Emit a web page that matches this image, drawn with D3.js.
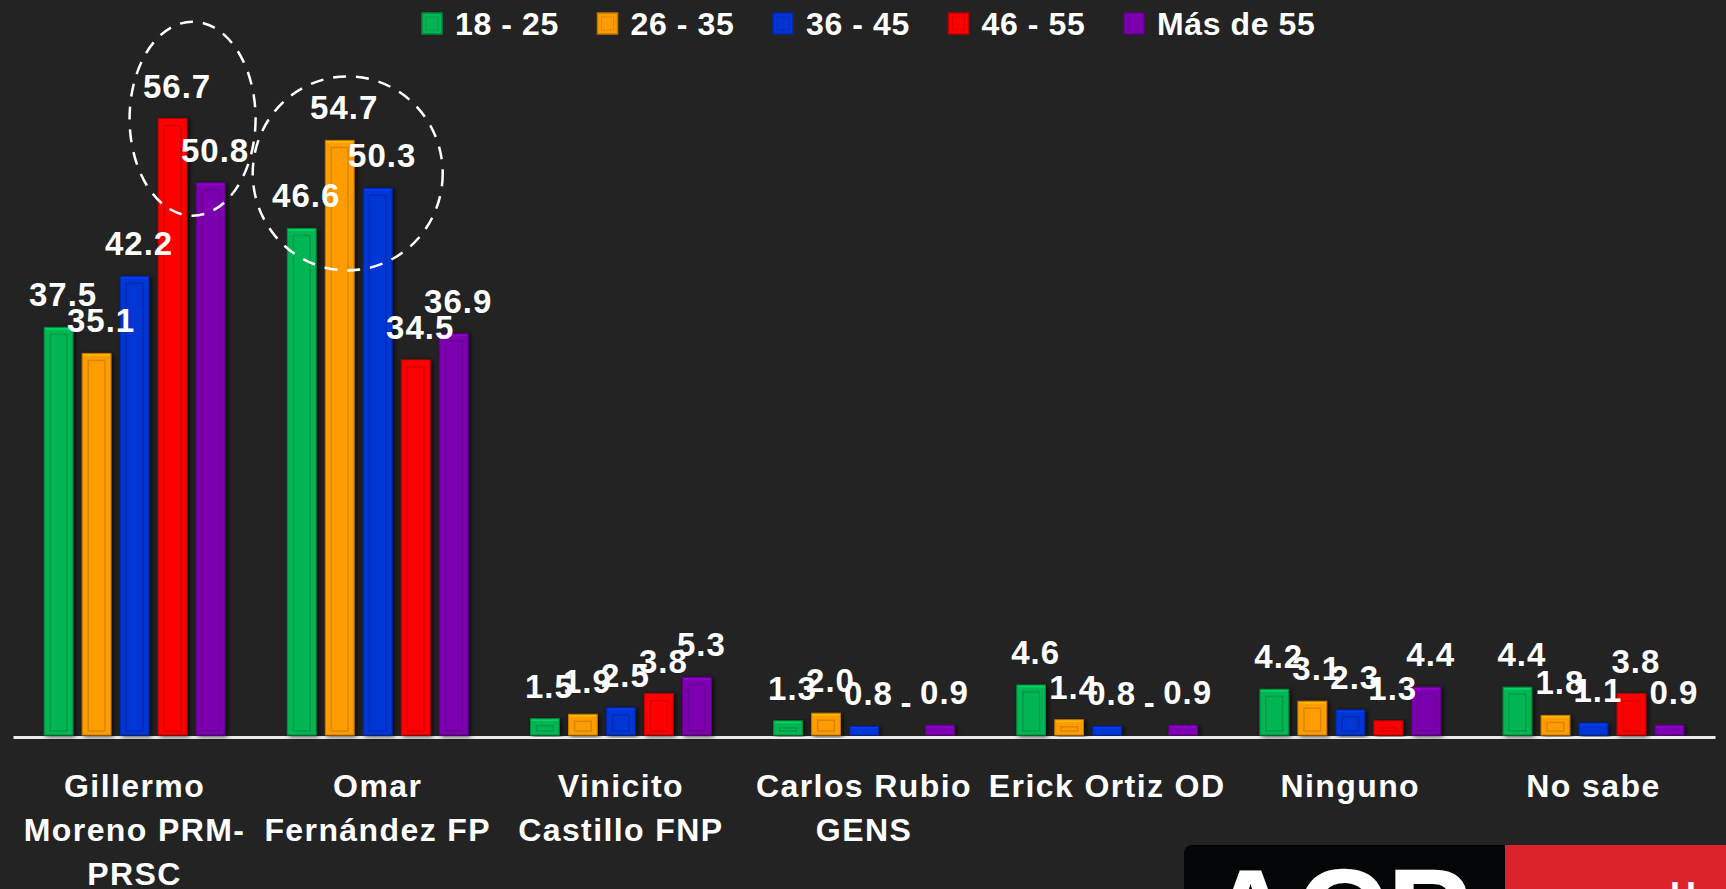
<!DOCTYPE html>
<html>
<head>
<meta charset="utf-8">
<script src="https://cdn.jsdelivr.net/npm/d3@7"></script>
<style>
    html, body { margin: 0; padding: 0; background: #232323; overflow: hidden; }
    .svg-container { width: 1726px; height: 889px; }
    text { font-family: "Liberation Sans", Arial, sans-serif; font-weight: bold; fill: #ffffff; }
</style>
</head>
<body>
<div class="svg-container"></div>
<script>
// ---- data ----
var categories = ["Gillermo Moreno PRM-PRSC", "Omar Fernández FP", "Vinicito Castillo FNP",
                  "Carlos Rubio GENS", "Erick Ortiz OD", "Ninguno", "No sabe"];
var categoryLines = [["Gillermo", "Moreno PRM-", "PRSC"], ["Omar", "Fernández FP"], ["Vinicito", "Castillo FNP"],
                     ["Carlos Rubio", "GENS"], ["Erick Ortiz OD"], ["Ninguno"], ["No sabe"]];
var series = ["18 - 25", "26 - 35", "36 - 45", "46 - 55", "Más de 55"];
var values18to25 = [37.5, 46.6, 1.5, 1.3, 4.6, 4.2, 4.4];
var values26to35 = [35.1, 54.7, 1.9, 2.0, 1.4, 3.1, 1.8];
var values36to45 = [42.2, 50.3, 2.5, 0.8, 0.8, 2.3, 1.1];
var values46to55 = [56.7, 34.5, 3.8, 0, 0, 1.3, 3.8];
var valuesOver55 = [50.8, 36.9, 5.3, 0.9, 0.9, 4.4, 0.9];
var yTicks = [0, 60];

var seriesValues = [values18to25, values26to35, values36to45, values46to55, valuesOver55];
var colors = ["#00b552", "#ff9d00", "#0534d6", "#ff0000", "#7d00b0"];

// dashed ellipses drawn round some bars (category index, series indexes)
var highlights = [
    { cat: 0, bars: [3, 4], dx: 1, dy: 0, rx: 63, ry: 97 },
    { cat: 1, bars: [0, 1, 2], dx: 8, dy: 33, rx: 95, ry: 97 }
];

var chart = (function() {
    var svg = null, W = 1726, H = 889;
    var x0, x1, y;

    function cacheDom() {
        svg = d3.select(".svg-container").append("svg")
            .attr("width", W)
            .attr("height", H);

        var defs = svg.append("defs");
        var f = defs.append("filter").attr("id", "shadow")
            .attr("x", "-40%").attr("y", "-10%").attr("width", "180%").attr("height", "120%");
        f.append("feDropShadow").attr("dx", 2).attr("dy", 1).attr("stdDeviation", 2.5)
            .attr("flood-color", "#000").attr("flood-opacity", 0.8);

        svg.append("rect").attr("width", W).attr("height", H).attr("fill", "#232323");
    }

    function buildScales() {
        x0 = d3.scaleBand().domain(categories).range([13, 1715]);
        x1 = d3.scaleBand().domain(series).range([-90.35, 90.35]).paddingInner(0.245).paddingOuter(0);
        y = d3.scaleLinear().domain(d3.extent(yTicks)).range([735, 735 - 60 * 10.87]);
    }

    function barX(ci, si) {
        return x0(categories[ci]) + x0.bandwidth() / 2 + x1(series[si]);
    }

    function drawBars() {
        var rows = [];
        categories.forEach(function(c, ci) {
            series.forEach(function(s, si) {
                rows.push({ ci: ci, si: si, v: seriesValues[si][ci] });
            });
        });
        var bw = x1.bandwidth();

        // bind data
        var bars = svg.append("g").selectAll("g.bar")
            .data(rows.filter(function(d) { return d.v > 0; }))
            .enter().append("g").attr("class", "bar");

        bars.append("rect")
            .attr("x", function(d) { return barX(d.ci, d.si); })
            .attr("y", function(d) { return y(d.v); })
            .attr("width", bw)
            .attr("height", function(d) { return y(0) - y(d.v); })
            .attr("fill", function(d) { return colors[d.si]; })
            .attr("stroke", function(d) { return d3.color(colors[d.si]).darker(0.7); })
            .attr("stroke-width", 1)
            .attr("filter", "url(#shadow)");

        // bevel: inner panel
        bars.filter(function(d) { return y(0) - y(d.v) > 12; }).append("rect")
            .attr("x", function(d) { return barX(d.ci, d.si) + 6; })
            .attr("y", function(d) { return y(d.v) + 7; })
            .attr("width", bw - 12)
            .attr("height", function(d) { return Math.max(0, y(0) - y(d.v) - 11); })
            .attr("fill", "none")
            .attr("stroke", function(d) { return d3.color(colors[d.si]).darker(0.6); })
            .attr("stroke-width", 1.5)
            .attr("stroke-opacity", 0.8);

        // top highlight line
        bars.append("line")
            .attr("x1", function(d) { return barX(d.ci, d.si) + 1; })
            .attr("x2", function(d) { return barX(d.ci, d.si) + bw - 1; })
            .attr("y1", function(d) { return y(d.v) + 1.5; })
            .attr("y2", function(d) { return y(d.v) + 1.5; })
            .attr("stroke", function(d) { return d3.color(colors[d.si]).brighter(0.5); })
            .attr("stroke-width", 1.5);

        // data labels
        svg.append("g").selectAll("text")
            .data(rows)
            .enter().append("text")
            .attr("x", function(d) { return barX(d.ci, d.si) + bw / 2 + 4.5; })
            .attr("y", function(d) { return y(d.v) - 21; })
            .attr("text-anchor", "middle")
            .style("font-size", "33px")
            .style("letter-spacing", "1px")
            .text(function(d) { return d.v === 0 ? "-" : d.v.toFixed(1); });
    }

    function drawAxis() {
        var ax = svg.append("g")
            .attr("transform", "translate(0,737)")
            .call(d3.axisBottom(x0).tickSize(0).tickSizeOuter(0).tickFormat(""));
        ax.select(".domain").attr("stroke", "#ececec").attr("stroke-width", 3);

        ax.selectAll(".tick").each(function(c, i) {
            var t = d3.select(this).append("text")
                .attr("text-anchor", "middle")
                .attr("fill", "#fff")
                .style("font-size", "32px")
                .style("letter-spacing", "1.4px");
            categoryLines[i].forEach(function(line, li) {
                t.append("tspan").attr("x", 0).attr("y", 60 + li * 44).text(line);
            });
        });
    }

    function drawHighlights() {
        var bw = x1.bandwidth();
        svg.append("g").selectAll("ellipse")
            .data(highlights)
            .enter().append("ellipse")
            .attr("cx", function(h) {
                return d3.mean(h.bars, function(si) { return barX(h.cat, si) + bw / 2; }) + h.dx;
            })
            .attr("cy", function(h) {
                return y(d3.max(h.bars, function(si) { return seriesValues[si][h.cat]; })) + h.dy;
            })
            .attr("rx", function(h) { return h.rx; })
            .attr("ry", function(h) { return h.ry; })
            .attr("fill", "none")
            .attr("stroke", "#fff")
            .attr("stroke-width", 2.5)
            .attr("stroke-dasharray", "13 10");
    }

    function drawLegend() {
        var items = svg.append("g").selectAll("g")
            .data(series)
            .enter().append("g")
            .attr("transform", function(d, i) { return "translate(" + (422 + i * 175.5) + ",13)"; });

        items.append("rect")
            .attr("width", 20).attr("height", 21)
            .attr("fill", function(d, i) { return colors[i]; })
            .attr("stroke", function(d, i) { return d3.color(colors[i]).darker(0.8); })
            .attr("stroke-width", 1.5);
        items.append("rect")
            .attr("x", 4).attr("y", 4).attr("width", 12).attr("height", 13)
            .attr("fill", "none")
            .attr("stroke", function(d, i) { return d3.color(colors[i]).darker(0.4); })
            .attr("stroke-width", 1);

        items.append("text")
            .attr("x", 33).attr("y", 22)
            .style("font-size", "32px")
            .style("letter-spacing", "0.6px")
            .text(function(d) { return d; });
    }

    function drawLogo() {
        var g = svg.append("g");
        g.append("rect").attr("x", 1184).attr("y", 845).attr("width", 340).attr("height", 70)
            .attr("rx", 8).attr("fill", "#030607");
        g.append("rect").attr("x", 1505).attr("y", 845).attr("width", 221).attr("height", 70)
            .attr("fill", "#dc222b");
        g.append("text").attr("x", 1205).attr("y", 957)
            .style("font-size", "126px").style("font-family", "'Liberation Sans', Arial").text("ACP");
        g.append("text").attr("x", 1670).attr("y", 908)
            .style("font-size", "36px").text("H");
    }

    function init() {
        cacheDom();
        buildScales();
        drawAxis();
        drawBars();
        drawHighlights();
        drawLegend();
        drawLogo();
    }

    init();
    return {};
})();
</script>
</body>
</html>
